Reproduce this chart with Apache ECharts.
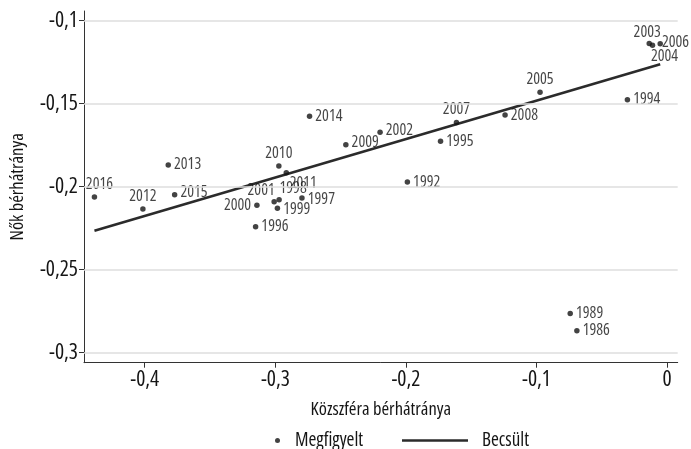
<!DOCTYPE html>
<html><head><meta charset="utf-8">
<script src="https://cdn.jsdelivr.net/npm/echarts@6/dist/echarts.min.js"></script>
<style>html,body{margin:0;padding:0;background:#fff}#c{width:691px;height:449px}</style>
</head><body><div id="c"></div>
<script>
// ---- data ----
const years = ['2016','2012','2013','2015','2000','2001','1998','1999','1997','1996','2010','2011','2009','2014','2002','2007','1995','1992','2008','2005','1994','2003','2004','2006','1989','1986'];
const xVals = [-0.4385,-0.4014,-0.3820,-0.3771,-0.3141,-0.3009,-0.2971,-0.2984,-0.2796,-0.3151,-0.2973,-0.2916,-0.2460,-0.2738,-0.2198,-0.1613,-0.1735,-0.1989,-0.1241,-0.0973,-0.0304,-0.0137,-0.0112,-0.0053,-0.0742,-0.0691];
const yVals = [-0.2062,-0.2134,-0.1869,-0.2048,-0.2112,-0.2090,-0.2078,-0.2130,-0.2068,-0.2241,-0.1875,-0.1916,-0.1747,-0.1576,-0.1672,-0.1614,-0.1727,-0.1972,-0.1568,-0.1431,-0.1476,-0.1137,-0.1148,-0.1139,-0.2763,-0.2867];
const fitX = [-0.4385, -0.0053];
const fitY = [-0.2265, -0.1263];
const xTicks = [-0.4, -0.3, -0.2, -0.1, 0];
const yTicks = [-0.3, -0.25, -0.2, -0.15, -0.1];
const seriesNames = ['Megfigyelt', 'Becsült'];
const xTitle = 'Közszféra bérhátránya';
const yTitle = 'Nők bérhátránya';

// ---- label placement (style only) ----
const labelPlace = {
  '2016':['top',[5,1]], '2012':['top',[0,1]], '2013':['right',[0,0]], '2015':['right',[0,-2]],
  '2000':['left',[0,0]], '2001':['top',[-13,3]], '1998':['top',[14,3]], '1999':['right',[0,1]],
  '1997':['right',[0,1]], '1996':['right',[0,0]], '2010':['top',[0,1]], '2011':['bottom',[17,-3]],
  '2009':['right',[0,-2]], '2014':['right',[0,0]], '2002':['right',[0,-2]], '2007':['top',[0,1]],
  '1995':['right',[0,0]], '1992':['right',[0,0]], '2008':['right',[0,0]], '2005':['top',[0,1]],
  '1994':['right',[0,0]], '2003':['top',[-2,3]], '2004':['bottom',[12,-3]], '2006':['right',[-4,-1]],
  '1989':['right',[0,0]], '1986':['right',[0,0]]
};

// ---- pick an installed condensed face ----
const cands = [
  ["'Liberation Sans Narrow'", 'normal'],
  ["'Roboto Condensed'", 'normal'],
  ["'DejaVu Sans Condensed'", 'normal'],
  ["'Noto Sans Condensed'", 'normal'],
  ["'Liberation Sans'", 'condensed'],
  ["'Roboto'", 'condensed'],
  ["'Noto Sans'", 'condensed'],
  ["'DejaVu Sans'", 'condensed'],
  ["'Open Sans'", 'condensed']
];
const cx = document.createElement('canvas').getContext('2d');
const probe = 'Közszféra bérhátránya 2016';
function w(font) { cx.font = 'normal normal 20px serif'; cx.font = font; return [cx.measureText(probe).width, cx.font]; }
let FONT = "'DejaVu Sans'", WEIGHT = 'normal', best = 1e9;
for (const [fam, wt] of cands) {
  const [mw] = w('normal ' + wt + ' 20px ' + fam);
  const [mwSerif] = w('normal ' + wt + ' 20px ' + fam + ', serif');
  const [mwMono] = w('normal ' + wt + ' 20px ' + fam + ', monospace');
  if (Math.abs(mwSerif - mwMono) > 0.5) continue; // family not found
  if (mw < best - 0.5) { best = mw; FONT = fam; WEIGHT = wt; }
}
const fmt = v => (Math.abs(v) < 1e-9 ? '0' : String(+v.toFixed(2)).replace('.', ','));
const T = (size, extra) => Object.assign({ fontFamily: FONT, fontWeight: WEIGHT, fontSize: size, color: '#151515' }, extra || {});

const pts = years.map((yr, i) => {
  const p = labelPlace[yr];
  return { value: [xVals[i], yVals[i], yr], label: { position: p[0], offset: p[1] } };
});

const chart = echarts.init(document.getElementById('c'), null, {renderer: 'canvas'});
chart.setOption({
  animation: false,
  textStyle: { fontFamily: FONT, fontWeight: WEIGHT },
  grid: { left: 79.5, right: 13.3, top: 11, bottom: 86.3, containLabel: false },
  xAxis: {
    type: 'value', min: -0.4465, max: 0.0081,
    name: xTitle, nameLocation: 'middle', nameGap: 38,
    nameTextStyle: T(18.5),
    axisLine: { show: true, onZero: false, lineStyle: { color: '#333', width: 1 } },
    axisTick: { show: true, length: 5, customValues: xTicks, lineStyle: { color: '#333' } },
    axisLabel: Object.assign(T(21.5), { customValues: xTicks, formatter: fmt, margin: 6 }),
    splitLine: { show: false }
  },
  yAxis: {
    type: 'value', min: -0.306, max: -0.0942,
    name: yTitle, nameLocation: 'middle', nameGap: 57, nameRotate: 90,
    nameTextStyle: T(18.5),
    axisLine: { show: true, onZero: false, lineStyle: { color: '#333', width: 1 } },
    axisTick: { show: true, length: 5, customValues: yTicks, lineStyle: { color: '#333' } },
    axisLabel: Object.assign(T(21.5), { customValues: yTicks, formatter: fmt, margin: 6 }),
    splitLine: { show: false }
  },
  legend: [
    { data: [seriesNames[0]], left: 270, top: 426, icon: 'circle', itemWidth: 5, itemHeight: 5,
      textStyle: T(19, { padding: [0, 0, 0, 10] }) },
    { data: [seriesNames[1]], left: 397, top: 426, icon: 'rect', itemWidth: 66, itemHeight: 2.5,
      textStyle: T(19, { padding: [0, 0, 0, 9] }) }
  ],
  series: [
    { type: 'scatter', name: 'grid', data: [], z: 1, silent: true,
      markLine: { silent: true, symbol: 'none', label: { show: false }, animation: false,
        lineStyle: { color: '#dedede', width: 1.5, type: 'solid' },
        data: yTicks.map(v => ({ yAxis: v })) } },
    { type: 'scatter', name: seriesNames[0], data: pts, symbolSize: 5.5, z: 4,
      itemStyle: { color: '#141414' },
      label: Object.assign(T(16), { show: true, formatter: p => p.value[2], distance: 3 }) },
    { type: 'line', name: seriesNames[1], data: fitX.map((x, i) => [x, fitY[i]]), symbol: 'none', z: 3,
      lineStyle: { color: '#2b2b2b', width: 2.6 }, itemStyle: { color: '#2b2b2b' } }
  ]
});
</script></body></html>
